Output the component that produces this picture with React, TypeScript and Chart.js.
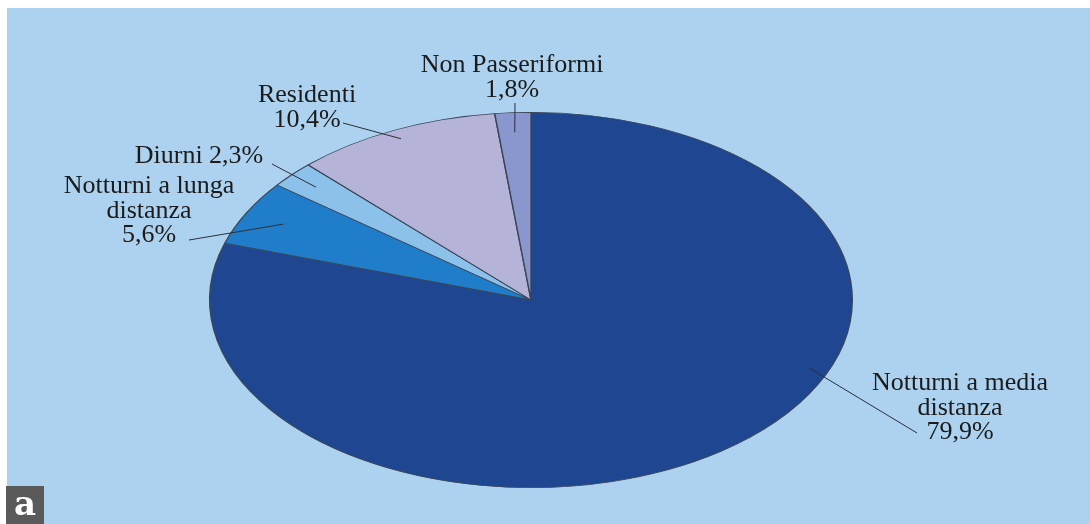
import React, { useEffect, useRef } from "react";
import { Chart, registerables } from "chart.js";

Chart.register(...registerables);

// ---- data ----
const categories = [
  "Notturni a media distanza",
  "Notturni a lunga distanza",
  "Diurni",
  "Residenti",
  "Non Passeriformi",
];
const values = [79.9, 5.6, 2.3, 10.4, 1.8];
const sliceColors = ["#1f4791", "#1f7dca", "#8cc1ea", "#b6b3d9", "#8a97cf"];
// how each category name is broken into lines on the picture
const nameLines = [
  ["Notturni a media", "distanza"],
  ["Notturni a lunga", "distanza"],
  ["Diurni"],
  ["Residenti"],
  ["Non Passeriformi"],
];
const percentInline = [false, false, true, false, false];

// ---- layout of the annotations (not data) ----
const ELLIPSE_X = 322 / 188;
const labelLayout = [
  { at: 0.392, r: 0.94, to: [917, 433], x: 960, y: 390 },
  { at: 0.5, r: 0.87, to: [189, 240], x: 149, y: 193 },
  { at: 0.5, r: 0.9, to: [272, 164], x: 199, y: 163 },
  { at: 0.5, r: 0.95, to: [343, 123], x: 307, y: 102 },
  { at: 0.5, r: 0.895, to: [515, 103], x: 512, y: 72 },
];
const LINE_H = 24.5;
const FONT = '26px "Liberation Serif", serif';

const fmt = (v: number) => v.toFixed(1).replace(".", ",") + "%";

const ellipsePlugin = {
  id: "ellipse",
  beforeDatasetsDraw(chart: any) {
    const arc = chart.getDatasetMeta(0).data[0];
    const ctx = chart.ctx;
    ctx.save();
    ctx.translate(arc.x, arc.y);
    ctx.scale(ELLIPSE_X, 1);
    ctx.translate(-arc.x, -arc.y);
  },
  afterDatasetsDraw(chart: any) {
    const ctx = chart.ctx;
    ctx.restore();
    const arcs = chart.getDatasetMeta(0).data;
    ctx.save();
    ctx.strokeStyle = "#2a2f3a";
    ctx.lineWidth = 1;
    ctx.fillStyle = "#1b1b1b";
    ctx.font = FONT;
    ctx.textAlign = "center";
    ctx.textBaseline = "alphabetic";
    arcs.forEach((arc: any, i: number) => {
      const L = labelLayout[i];
      const a = arc.startAngle + L.at * (arc.endAngle - arc.startAngle);
      const R = arc.outerRadius;
      const px = arc.x + ELLIPSE_X * L.r * R * Math.cos(a);
      const py = arc.y + L.r * R * Math.sin(a);
      ctx.beginPath();
      ctx.moveTo(px, py);
      ctx.lineTo(L.to[0], L.to[1]);
      ctx.stroke();
      const lines = [...nameLines[i]];
      if (percentInline[i]) lines[lines.length - 1] += " " + fmt(values[i]);
      else lines.push(fmt(values[i]));
      lines.forEach((t, k) => ctx.fillText(t, L.x, L.y + k * LINE_H));
    });
    ctx.restore();
  },
};

export default function App() {
  const ref = useRef<HTMLCanvasElement>(null);
  useEffect(() => {
    if (!ref.current) return;
    const chart = new Chart(ref.current, {
      type: "pie",
      data: {
        labels: categories,
        datasets: [
          {
            data: values,
            backgroundColor: sliceColors,
            borderColor: "#3a4456",
            borderWidth: 0.8,
            clip: false,
          } as any,
        ],
      },
      options: {
        responsive: false,
        animation: false,
        events: [],
        layout: { padding: { left: 0, right: 28, top: 112, bottom: 36 } },
        plugins: { legend: { display: false }, tooltip: { enabled: false } },
      },
      plugins: [ellipsePlugin],
    });
    return () => chart.destroy();
  }, []);

  return (
    <div style={{ position: "fixed", left: 0, top: 0, width: 1090, height: 524, background: "#ffffff", overflow: "hidden" }}>
      <div style={{ position: "absolute", left: 7, top: 8, right: 0, bottom: 0, background: "#acd2ef" }} />
      <canvas ref={ref} width={1090} height={524} style={{ position: "absolute", left: 0, top: 0, width: 1090, height: 524 }} />
      <div
        style={{
          position: "absolute",
          left: 6,
          top: 486,
          width: 38,
          height: 38,
          background: "#5a5a5a",
          color: "#ffffff",
          fontFamily: '"DejaVu Serif", serif',
          fontWeight: "bold",
          fontSize: 34,
          lineHeight: "34px",
          textAlign: "center",
        }}
      >
        a
      </div>
    </div>
  );
}
